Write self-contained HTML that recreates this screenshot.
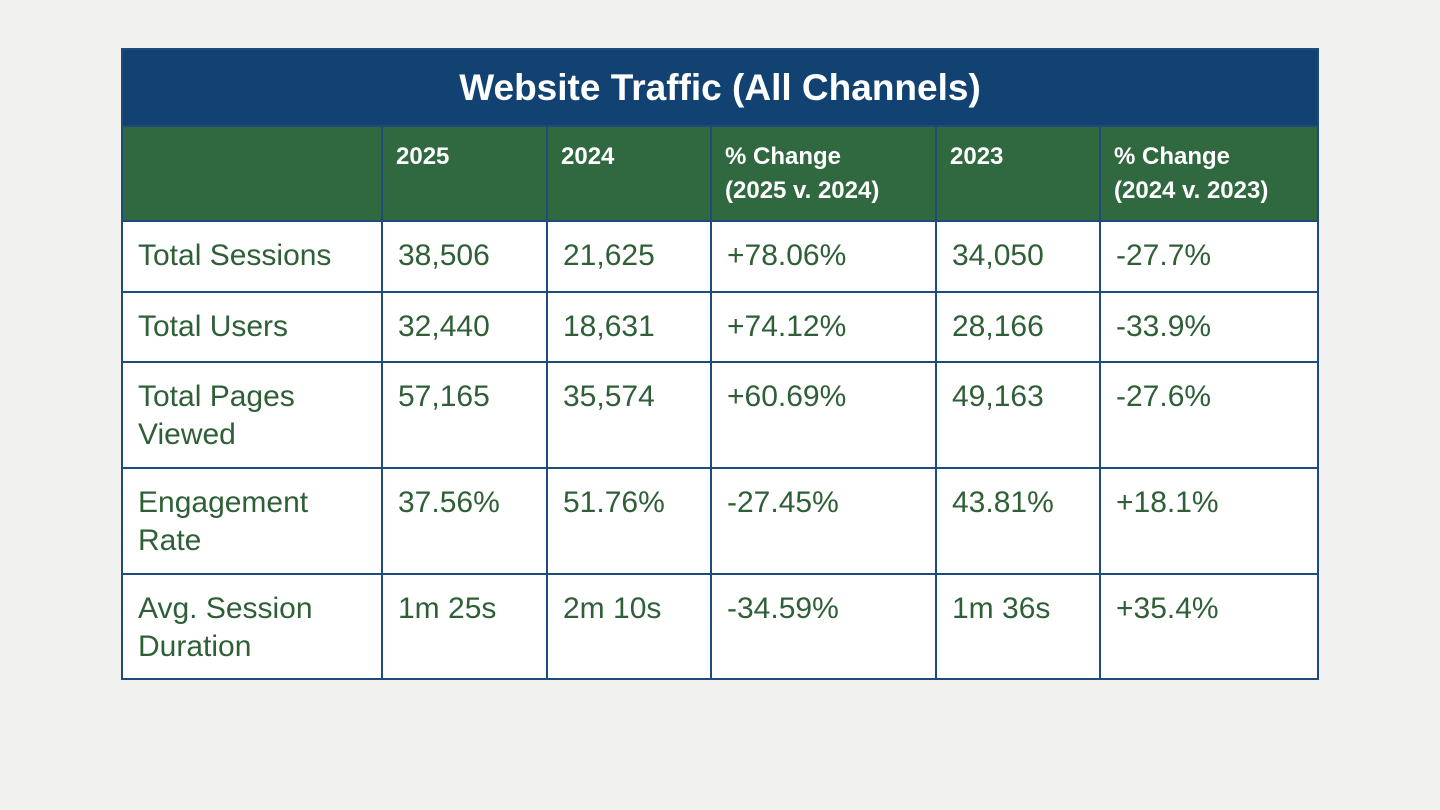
<!DOCTYPE html>
<html><head><meta charset="utf-8"><style>
html,body{margin:0;padding:0;width:1440px;height:810px;background:#f1f1f0;overflow:hidden}
table{position:absolute;left:121px;top:48px;border-collapse:collapse;table-layout:fixed;width:1198px;font-family:"Liberation Sans",sans-serif}
td,th{border:2px solid #1f4a7c;vertical-align:top;text-align:left;padding:0 0 0 15px;box-sizing:border-box}
.title th{background:#124272;color:#fff;font-size:37px;font-weight:bold;text-align:center;vertical-align:middle;height:77px;padding:0}
.hdr th{background:#30683f;color:#fff;font-size:24px;font-weight:bold;height:95px;padding-top:13px;padding-left:13px;line-height:34px}
td{background:#fff;color:#2f5f37;font-size:30px;line-height:38px;padding-top:15px}
</style></head><body>
<table>
<colgroup><col style="width:260px"><col style="width:165px"><col style="width:164px"><col style="width:225px"><col style="width:164px"><col style="width:218px"></colgroup>
<tr class="title"><th colspan="6">Website Traffic (All Channels)</th></tr>
<tr class="hdr">
<th></th>
<th>2025</th>
<th>2024</th>
<th>% Change<br>(2025 v. 2024)</th>
<th>2023</th>
<th>% Change<br>(2024 v. 2023)</th>
</tr>
<tr style="height:71px"><td>Total Sessions</td><td>38,506</td><td>21,625</td><td>+78.06%</td><td>34,050</td><td>-27.7%</td></tr>
<tr style="height:70px"><td>Total Users</td><td>32,440</td><td>18,631</td><td>+74.12%</td><td>28,166</td><td>-33.9%</td></tr>
<tr style="height:106px"><td>Total Pages<br>Viewed</td><td>57,165</td><td>35,574</td><td>+60.69%</td><td>49,163</td><td>-27.6%</td></tr>
<tr style="height:106px"><td>Engagement<br>Rate</td><td>37.56%</td><td>51.76%</td><td>-27.45%</td><td>43.81%</td><td>+18.1%</td></tr>
<tr style="height:105px"><td>Avg. Session<br>Duration</td><td>1m 25s</td><td>2m 10s</td><td>-34.59%</td><td>1m 36s</td><td>+35.4%</td></tr>
</table>
</body></html>
